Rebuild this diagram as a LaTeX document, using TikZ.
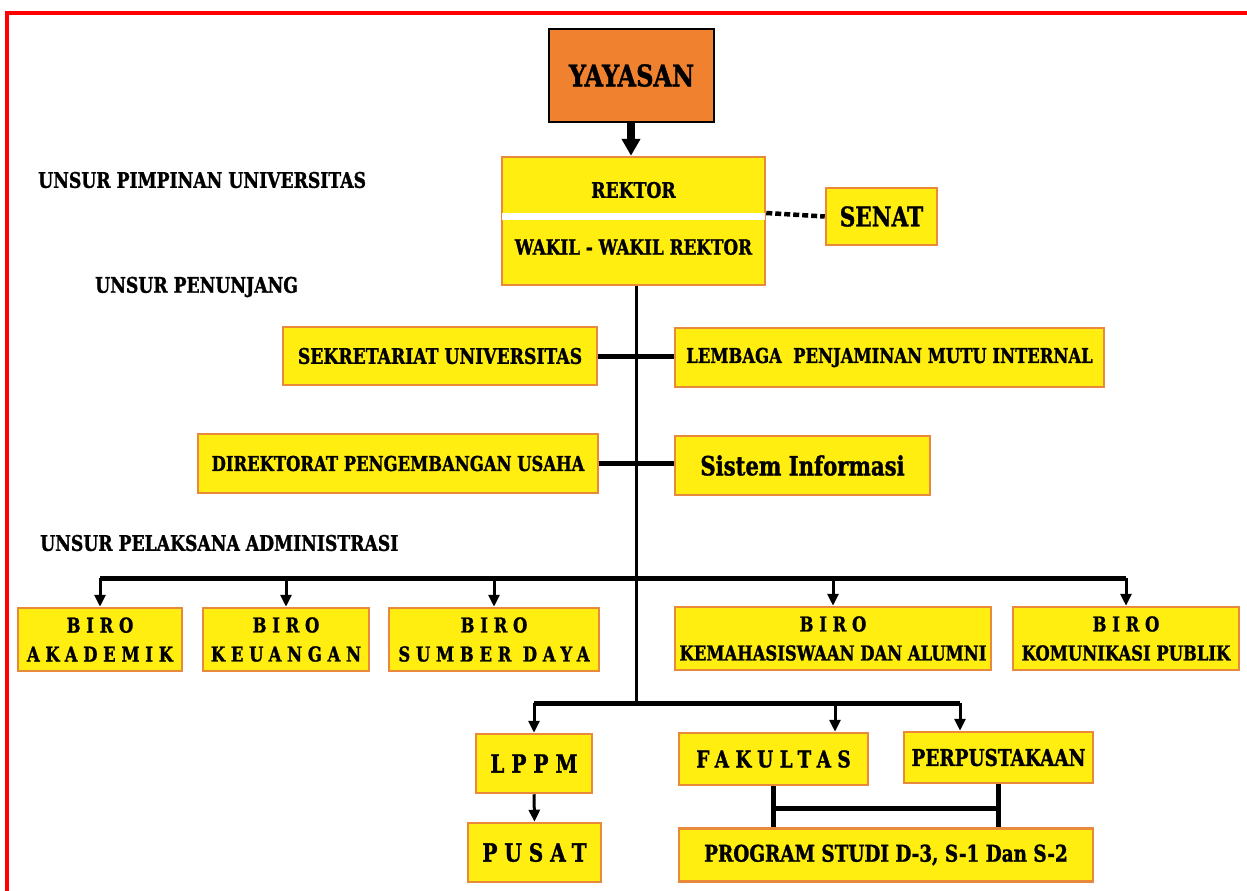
\documentclass[tikz,border=0pt]{standalone}
\usepackage{fontspec}
\newfontfamily\orgfont{DejaVu Serif Bold}[FakeStretch=0.8,FakeBold=1.2]
\newfontfamily\orgspaced{DejaVu Serif Bold}[FakeStretch=0.8,FakeBold=1.2,LetterSpace=28]
\usetikzlibrary{arrows.meta}
\definecolor{boxfill}{HTML}{FFEE10}
\definecolor{boxline}{HTML}{E9893B}
\definecolor{headfill}{HTML}{F0822F}
\definecolor{frame}{HTML}{FF0000}

\tikzset{
    unit/.style={draw=boxline, fill=boxfill, line width=2.5pt, inner sep=0pt, align=center,
                 font=\orgfont\fontsize{20.5}{24}\selectfont},
    biro/.style={unit, minimum height=63pt, font=\orgfont\fontsize{20.5}{29}\selectfont},
    unsur/.style={anchor=west, inner sep=0pt, font=\orgfont\fontsize{21.5}{24}\selectfont},
    link/.style={line width=5pt},
    down/.style={line width=3pt, -{Triangle[width=11pt,length=12pt]}},
}

\begin{document}
\begin{tikzpicture}[x=1pt,y=-1pt]
    \useasboundingbox (0,0) rectangle (1247,891);
    \draw[frame, line width=4pt] (7,893) -- (7,13) -- (1249,13);

    % pimpinan
    \node[draw=black, fill=headfill, line width=2pt, minimum width=165pt, minimum height=93pt,
          font=\orgfont\fontsize{30}{33}\selectfont] (yay) at (631.5,75.5) {YAYASAN};
    \node[unit, minimum width=263pt, minimum height=128pt] (rek) at (633.5,221) {};
    \draw[white, line width=7pt, shorten <=1.3pt, shorten >=1.3pt]
        ([yshift=4.5pt]rek.west) -- ([yshift=4.5pt]rek.east);
    \node[font=\orgfont\fontsize{21.5}{24}\selectfont] (rektxt) at (633.5,190) {REKTOR};
    \node[font=\orgfont\fontsize{21}{24}\selectfont] (waktxt) at (633.5,247) {WAKIL - WAKIL REKTOR};
    \node[unit, minimum width=111pt, minimum height=57pt, font=\orgfont\fontsize{27}{30}\selectfont]
        (sen) at (881.5,216.5) {SENAT};

    \node[unsur] (u1) at (38,180) {UNSUR PIMPINAN UNIVERSITAS};
    \node[unsur] (u2) at (95,287) {UNSUR PENUNJANG};
    \node[unsur] (u3) at (40,543) {UNSUR PELAKSANA ADMINISTRASI};

    % penunjang
    \node[unit, minimum width=314pt, minimum height=58pt, font=\orgfont\fontsize{21.5}{24}\selectfont]
        (sek) at (440,356) {SEKRETARIAT UNIVERSITAS};
    \node[unit, minimum width=429pt, minimum height=59pt] (lem) at (889.5,357.5) {LEMBAGA\ \ PENJAMINAN MUTU INTERNAL};
    \node[unit, minimum width=400pt, minimum height=59pt] (dir) at (398,463.5) {DIREKTORAT PENGEMBANGAN USAHA};
    \node[unit, minimum width=255pt, minimum height=59pt, font=\orgfont\fontsize{26.5}{30}\selectfont]
        (sis) at (802.5,465.5) {Sistem Informasi};

    % biro
    \node[biro, minimum width=164pt] (b1) at (100,639.5) {\orgspaced BIRO\\\orgspaced AKADEMIK};
    \node[biro, minimum width=166pt] (b2) at (286,639.5) {\orgspaced BIRO\\\orgspaced KEUANGAN};
    \node[biro, minimum width=210pt] (b3) at (494,639.5) {\orgspaced BIRO\\\orgspaced SUMBER DAYA};
    \node[biro, minimum width=316pt] (b4) at (833,638.5) {\orgspaced BIRO\\KEMAHASISWAAN DAN ALUMNI};
    \node[biro, minimum width=226pt] (b5) at (1126,638.5) {\orgspaced BIRO\\KOMUNIKASI PUBLIK};

    % pelaksana akademik
    \node[unit, minimum width=116pt, minimum height=59pt, font=\orgspaced\fontsize{25}{28}\selectfont]
        (lppm) at (534,763.5) {LPPM};
    \node[unit, minimum width=133pt, minimum height=59pt, font=\orgspaced\fontsize{25}{28}\selectfont]
        (pus) at (534.5,852.5) {PUSAT};
    \node[unit, minimum width=189pt, minimum height=52pt, font=\orgspaced\fontsize{23}{26}\selectfont]
        (fak) at (773.5,759) {FAKULTAS};
    \node[unit, minimum width=189pt, minimum height=51pt, font=\orgfont\fontsize{23}{26}\selectfont]
        (perp) at (998.5,757.5) {PERPUSTAKAAN};
    \node[unit, minimum width=414pt, minimum height=53pt, font=\orgfont\fontsize{23}{26}\selectfont]
        (prog) at (886,855) {PROGRAM STUDI D-3, S-1 Dan S-2};

    % connectors
    \coordinate (trunk) at (636,703);
    \coordinate (bl) at (b1.north |- 0,578);
    \coordinate (br) at (b5.north |- 0,578);
    \coordinate (ll) at (lppm.north |- trunk);
    \coordinate (lr) at (960,703);
    \coordinate (fj) at (835,703);
    \coordinate (pl) at (773,808);
    \coordinate (pr) at (998,808);

    \draw[line width=8pt, -{Triangle[width=18pt,length=17pt]}] (yay.south -| 631,0) -- (rek.north -| 631,0);
    \draw[line width=4.5pt, dash pattern=on 6pt off 3pt] ([yshift=8pt]rek.east) -- (sen.west);
    \draw[line width=3pt] (rek.south -| trunk) -- (trunk);
    \draw[link] (sek.east) -- (sek.east -| lem.west);
    \draw[link] (dir.east) -- (dir.east -| sis.west);
    \draw[link] (bl) -- (br);
    \foreach \b in {b1,b2,b3,b4,b5}
        \draw[down] (\b.north |- bl) -- (\b.north);
    \draw[link] (ll) -- (lr);
    \draw[down] (ll) -- (lppm.north);
    \draw[down] (fj) -- (fj |- fak.north);
    \draw[down] (lr) -- (lr |- perp.north);
    \draw[down] (lppm.south) -- (pus.north);
    \draw[link] (pl |- fak.south) -- (pl |- prog.north);
    \draw[link] (pr |- perp.south) -- (pr |- prog.north);
    \draw[link] (pl) -- (pr);
\end{tikzpicture}
\end{document}
